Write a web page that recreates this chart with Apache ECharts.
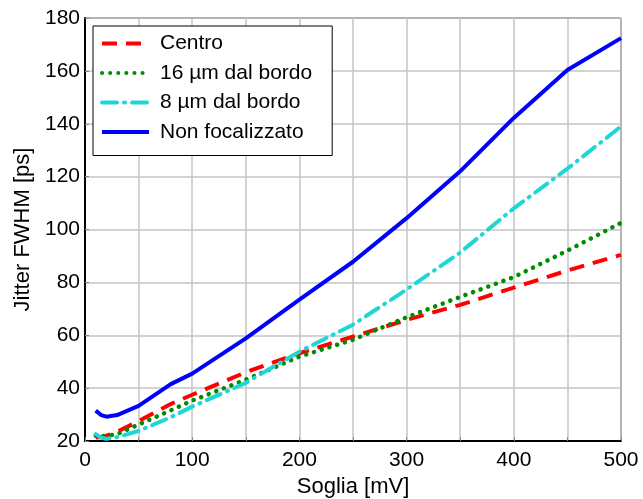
<!DOCTYPE html>
<html>
<head>
<meta charset="utf-8">
<script src="https://cdn.jsdelivr.net/npm/echarts@6/dist/echarts.min.js"></script>
<style>
  html, body { margin: 0; padding: 0; background: #fff; }
  #chart { width: 643px; height: 499px; }
</style>
</head>
<body>
<div id="chart"></div>
<script>
// Threshold values (mV) shared by all curves
const soglia = [10, 15, 20, 30, 50, 80, 100, 150, 200, 250, 300, 350, 400, 450, 500];

// Jitter FWHM (ps) for each configuration
const centro        = [21.3, 21.5, 22.0, 23.5, 27.5, 34.0, 37.5, 46.0, 53.2, 59.5, 65.8, 71.5, 78.0, 84.5, 90.4];
const bordo16       = [22.0, 21.8, 22.0, 22.6, 26.2, 31.6, 35.3, 43.2, 51.9, 58.3, 66.8, 74.5, 82.0, 92.0, 102.5];
const bordo8        = [22.6, 21.2, 20.8, 21.5, 23.8, 29.0, 33.0, 42.0, 53.8, 64.0, 77.3, 91.3, 108.0, 123.0, 139.0];
const nonFocalizzato = [31.5, 29.8, 29.2, 29.8, 33.3, 41.5, 45.5, 58.8, 73.5, 87.8, 104.3, 122.0, 142.2, 160.3, 172.4];

const seriesNames = ['Centro', '16 \u00b5m dal bordo', '8 \u00b5m dal bordo', 'Non focalizzato'];

const FONT = '"Liberation Sans", Arial, Helvetica, sans-serif';

function pairs(ys) {
  return soglia.map((x, i) => [x, ys[i]]);
}

function lineSeries(name, ys, color, lineStyle) {
  return {
    name: name,
    type: 'line',
    data: pairs(ys),
    symbol: 'none',
    showSymbol: false,
    smooth: false,
    color: color,
    lineStyle: Object.assign({ color: color, width: 4 }, lineStyle),
    z: 3
  };
}

const chart = echarts.init(document.getElementById('chart'), null, { renderer: 'canvas' });

chart.setOption({
  animation: false,
  backgroundColor: '#ffffff',
  textStyle: { fontFamily: FONT },
  grid: {
    left: 85, right: 22, top: 18, bottom: 58,
    outerBoundsMode: 'none',
    containLabel: false,
    show: true, borderColor: '#000', borderWidth: 1
  },
  legend: {
    left: 93, top: 26,
    orient: 'vertical',
    backgroundColor: '#fff',
    borderColor: '#000',
    borderWidth: 1,
    borderRadius: 0,
    padding: [7, 20, 13, 7],
    itemWidth: 47,
    itemHeight: 17,
    itemGap: 8.5,
    itemStyle: { opacity: 0 },
    lineStyle: { width: 4 },
    textStyle: { fontFamily: FONT, fontSize: 21, lineHeight: 17, color: '#000', padding: [0, 0, 0, 6] },
    data: seriesNames
  },
  xAxis: {
    type: 'value',
    min: 0, max: 500, interval: 50,
    name: 'Soglia [mV]',
    nameLocation: 'middle',
    nameGap: 32,
    nameTextStyle: { fontFamily: FONT, fontSize: 22, color: '#000' },
    axisLine: { show: true, lineStyle: { color: '#000', width: 2 } },
    axisTick: { show: true, inside: true, length: 4, lineStyle: { color: '#888' } },
    axisLabel: {
      fontFamily: FONT, fontSize: 21, color: '#000', margin: 9,
      formatter: v => (v % 100 === 0 ? String(v) : '')
    },
    splitLine: { show: true, lineStyle: { color: '#c4c4c4', width: 1.5 } }
  },
  yAxis: {
    type: 'value',
    min: 20, max: 180, interval: 20,
    name: 'Jitter FWHM [ps]',
    nameLocation: 'middle',
    nameGap: 50,
    nameTextStyle: { fontFamily: FONT, fontSize: 22, color: '#000' },
    axisLine: { show: true, lineStyle: { color: '#000', width: 2 } },
    axisTick: { show: true, inside: true, length: 4, lineStyle: { color: '#888' } },
    axisLabel: { fontFamily: FONT, fontSize: 21, color: '#000', margin: 5 },
    splitLine: { show: true, lineStyle: { color: '#c4c4c4', width: 1.5 } }
  },
  series: [
    lineSeries(seriesNames[0], centro, '#ff0000', { type: [15, 9] }),
    lineSeries(seriesNames[1], bordo16, '#008c00', { type: [0.1, 8], cap: 'round', width: 4.5 }),
    lineSeries(seriesNames[2], bordo8, '#1fd6d6', { type: [15, 7, 1, 7], cap: 'round' }),
    lineSeries(seriesNames[3], nonFocalizzato, '#0000ff', { type: 'solid' })
  ]
});
</script>
</body>
</html>
